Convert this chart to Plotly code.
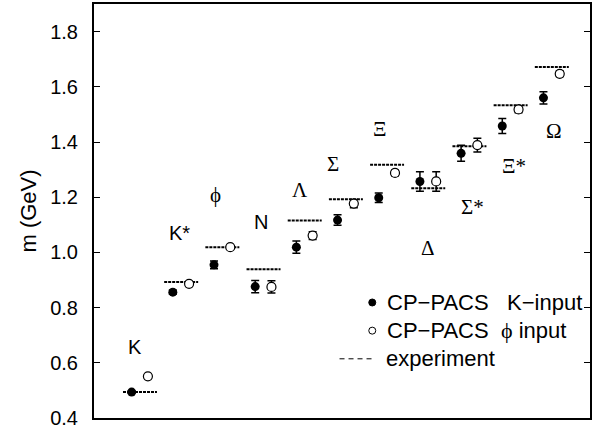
import plotly.graph_objects as go

# ---- data ----
particles = ["K", "K*", "ϕ", "N", "Λ", "Σ", "Ξ", "Δ", "Σ*", "Ξ*", "Ω"]
k_input = [0.494, 0.856, 0.955, 0.876, 1.019, 1.117, 1.198, 1.257, 1.359, 1.458, 1.560]
k_err = [0.004, 0.008, 0.014, 0.022, 0.022, 0.019, 0.017, 0.035, 0.029, 0.027, 0.022]
phi_input = [0.551, 0.886, 1.019, 0.875, 1.061, 1.177, 1.288, 1.257, 1.389, 1.518, 1.647]
phi_err = [0.004, 0.006, 0.004, 0.022, 0.014, 0.015, 0.010, 0.035, 0.025, 0.012, 0.010]
experiment = [0.494, 0.893, 1.019, 0.939, 1.116, 1.193, 1.318, 1.232, 1.385, 1.533, 1.672]
y_ticks = [0.4, 0.6, 0.8, 1.0, 1.2, 1.4, 1.6, 1.8]

# label placement (layout)
label_pos = [(0.08, 0.657), (1.17, 1.069), (2.04, 1.207), (3.15, 1.111), (4.08, 1.225),
             (4.89, 1.32), (6.02, 1.446), (7.19, 1.015), (8.28, 1.165), (9.29, 1.312), (10.26, 1.44)]
serif_labels = {"ϕ", "Λ", "Σ", "Ξ", "Δ", "Σ*", "Ξ*", "Ω"}

idx = list(range(len(particles)))
OPEN_OFF = 0.395

fig = go.Figure()

# experiment lines
ex, ey = [], []
for i, v in zip(idx, experiment):
    ex += [i - 0.21, i + OPEN_OFF + 0.22, None]
    ey += [v, v, None]
fig.add_trace(go.Scatter(x=ex, y=ey, mode="lines",
                         line=dict(color="black", width=2, dash="3px,1px"),
                         showlegend=False, hoverinfo="skip"))

fig.add_trace(go.Scatter(x=idx, y=k_input, mode="markers",
                         marker=dict(symbol="circle", size=9, color="black"),
                         error_y=dict(type="data", array=k_err, color="black", thickness=1.5, width=4),
                         showlegend=False))
fig.add_trace(go.Scatter(x=[i + OPEN_OFF for i in idx], y=phi_input, mode="markers",
                         marker=dict(symbol="circle", size=9, color="white",
                                     line=dict(width=1.2, color="black")),
                         error_y=dict(type="data", array=phi_err, color="black", thickness=1.5, width=4),
                         showlegend=False))

annotations = []
for name, (lx, ly) in zip(particles, label_pos):
    serif = name in serif_labels
    annotations.append(dict(x=lx, y=ly, xref="x", yref="y", text=name, showarrow=False,
                            font=dict(family="Liberation Serif" if serif else "Liberation Sans",
                                      size=21 if serif else 20, color="black")))

# custom legend
leg_font = dict(family="Liberation Sans", size=22, color="black")
annotations += [
    dict(x=0.5875, y=0.279, xref="paper", yref="paper", xanchor="left", yanchor="middle",
         text="CP−PACS   K−input", showarrow=False, font=leg_font),
    dict(x=0.5875, y=0.211, xref="paper", yref="paper", xanchor="left", yanchor="middle",
         text="CP−PACS  <span style='font-family:Liberation Serif'>ϕ</span> input", showarrow=False,
         font=leg_font),
    dict(x=0.584, y=0.143, xref="paper", yref="paper", xanchor="left", yanchor="middle",
         text="experiment", showarrow=False, font=leg_font),
]
shapes = [
    dict(type="circle", xref="paper", yref="paper", xsizemode="pixel", ysizemode="pixel",
         xanchor=0.561, yanchor=0.279, x0=-3.5, x1=3.5, y0=-3.5, y1=3.5,
         fillcolor="black", line=dict(color="black", width=1)),
    dict(type="circle", xref="paper", yref="paper", xsizemode="pixel", ysizemode="pixel",
         xanchor=0.561, yanchor=0.211, x0=-3.5, x1=3.5, y0=-3.5, y1=3.5,
         fillcolor="white", line=dict(color="black", width=1)),
    dict(type="line", xref="paper", yref="paper", x0=0.495, x1=0.566, y0=0.143, y1=0.143,
         line=dict(color="black", width=1, dash="5px,4px")),
]

fig.update_layout(
    width=603, height=434,
    margin=dict(l=94, r=13, t=2, b=16),
    paper_bgcolor="white", plot_bgcolor="white",
    showlegend=False,
    annotations=annotations, shapes=shapes,
    xaxis=dict(range=[-0.914, 11.13], showgrid=False, zeroline=False, showticklabels=False,
               ticks="", showline=True, linecolor="black", linewidth=2, mirror=True),
    yaxis=dict(range=[0.4, 1.9], tickvals=y_ticks, ticktext=[f"{t:.1f}" for t in y_ticks],
               ticks="inside", ticklen=6, tickwidth=1, tickcolor="black",
               showgrid=False, zeroline=False, showline=True, linecolor="black", linewidth=2,
               mirror="ticks", ticklabelstandoff=10,
               tickfont=dict(family="Liberation Sans", size=20, color="black"),
               title=dict(text="m (GeV)", font=dict(family="Liberation Sans", size=22, color="black"),
                          standoff=7)),
)

fig.write_html("out.html", config={"displayModeBar": False},
               post_script="document.body.style.margin='0';"
                           "document.body.style.overflow='hidden';"
                           "document.documentElement.style.overflow='hidden';")
